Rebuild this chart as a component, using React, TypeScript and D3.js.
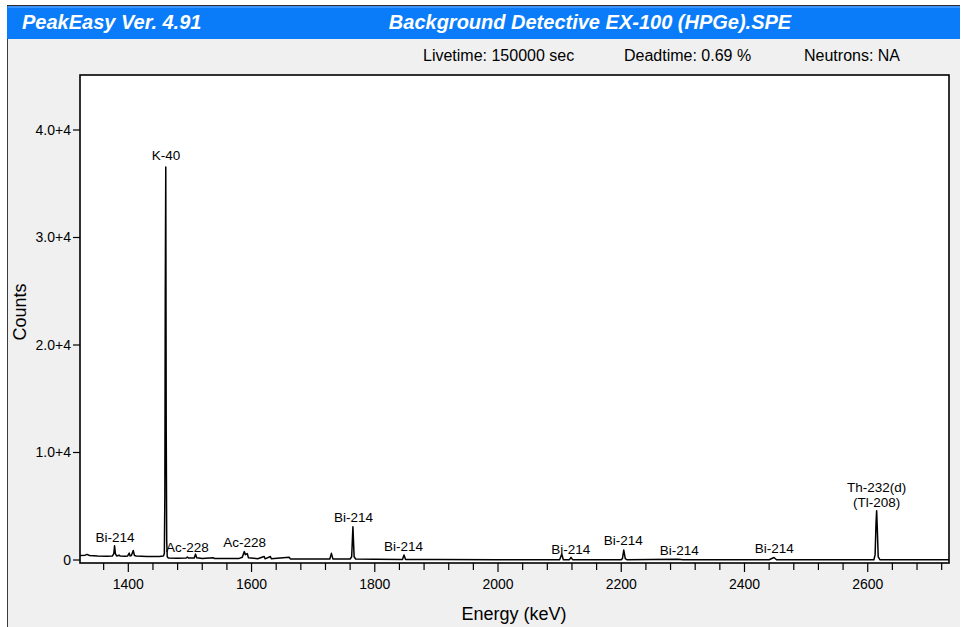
import React from "react";
import * as d3 from "d3";

// Spectrum points: energy (keV) and counts
const spectrumEnergy = [
  1322, 1330, 1333, 1337, 1350, 1365, 1374, 1376.5, 1377.7, 1379, 1381, 1385, 1387, 1395, 1399,
  1401.5, 1403, 1405, 1408, 1410, 1413, 1430, 1450, 1457, 1458.5, 1459.3, 1460.0, 1460.8, 1461.5,
  1462.3, 1463.2, 1465, 1480, 1494, 1495.9, 1498, 1507, 1509.2, 1511, 1520, 1538, 1540, 1560, 1580,
  1585, 1588.2, 1590, 1593, 1595, 1610, 1620.5, 1622, 1630.6, 1632, 1661, 1663, 1700, 1727, 1729.6,
  1732, 1760, 1762.5, 1764.5, 1766.5, 1769, 1800, 1845, 1847.4, 1850, 1900, 2000, 2100, 2103.5,
  2106, 2116, 2118.5, 2121, 2200, 2202, 2204.1, 2206.5, 2209, 2293, 2300, 2440, 2447.9, 2452, 2610,
  2612, 2613.5, 2614.5, 2615.5, 2617, 2620, 2732,
];
const spectrumCounts = [
  430, 450, 520, 420, 380, 360, 370, 600, 1330, 600, 380, 450, 370, 360, 380,
  640, 380, 420, 880, 420, 370, 330, 330, 370, 600, 5900, 24900, 36560, 12400,
  1800, 300, 180, 170, 190, 280, 180, 180, 550, 200, 150, 200, 140, 130, 150,
  250, 780, 500, 600, 200, 120, 330, 110, 330, 110, 260, 100, 90, 100, 620,
  100, 90, 300, 3100, 300, 90, 60, 50, 460, 50, 40, 30, 30, 550,
  30, 30, 250, 30, 30, 150, 930, 120, 30, 60, 20, 20, 230, 20, 20,
  500, 3500, 4590, 3000, 300, 20, 20,
];

// Peak labels: text, energy of label center, counts at label baseline
const peakLabelText = [
  "Bi-214", "K-40", "Ac-228", "Ac-228", "Bi-214", "Bi-214", "Bi-214", "Bi-214", "Bi-214", "Bi-214",
  "Th-232(d)", "(Tl-208)",
];
const peakLabelEnergy = [1378.5, 1461, 1496, 1588.6, 1765.5, 1846.5, 2118, 2203.3, 2294.3, 2448.4, 2614.5, 2614.5];
const peakLabelCounts = [1720, 37250, 700, 1210, 3580, 880, 600, 1350, 510, 670, 6340, 4950];

const yTickValues = [0, 10000, 20000, 30000, 40000];
const yTickLabels = ["0", "1.0+4", "2.0+4", "3.0+4", "4.0+4"];
const xMajorTicks = [1400, 1600, 1800, 2000, 2200, 2400, 2600];
const xMinorTicks = [
  1360, 1400, 1440, 1480, 1520, 1560, 1600, 1640, 1680, 1720, 1760, 1800, 1840, 1880, 1920, 1960,
  2000, 2040, 2080, 2120, 2160, 2200, 2240, 2280, 2320, 2360, 2400, 2440, 2480, 2520, 2560, 2600,
  2640, 2680, 2720,
];

const titleLeft = "PeakEasy Ver. 4.91";
const titleCenter = "Background Detective EX-100 (HPGe).SPE";
const infoTexts = ["Livetime: 150000 sec", "Deadtime: 0.69 %", "Neutrons: NA"];

const W = 965;
const H = 627;
const plot = { left: 80, right: 949, top: 75, bottom: 563 };
const FONT = "Arial, 'Liberation Sans', sans-serif";

export default function App() {
  const x = d3.scaleLinear().domain([1321.6, 2731.9]).range([plot.left, plot.right]);
  const y = d3.scaleLinear().domain([-279, 45116]).range([plot.bottom, plot.top]);
  const pts: [number, number][] = spectrumEnergy.map((e, i) => [e, spectrumCounts[i]]);
  const line = d3
    .line<[number, number]>()
    .x((d) => x(d[0]))
    .y((d) => y(d[1]));

  return (
    <div>
      <style>{"body{margin:0;background:#fff}"}</style>
      <svg width={W} height={H} style={{ display: "block" }} fontFamily={FONT}>
        <defs>
          <clipPath id="plotclip">
            <rect x={plot.left} y={plot.top} width={plot.right - plot.left} height={plot.bottom - plot.top} />
          </clipPath>
        </defs>
        <rect x={0} y={0} width={W} height={H} fill="#ffffff" />
        {/* window background */}
        <rect x={7} y={5} width={953} height={H - 5} fill="#f0f0f0" />
        <line x1={7.5} y1={5} x2={7.5} y2={H} stroke="#3a3a3a" strokeWidth={1} />
        {/* header */}
        <rect x={7} y={5} width={953} height={34} fill="#0a7cf9" />
        <line x1={7} y1={5.5} x2={960} y2={5.5} stroke="#2a2a2a" strokeWidth={1} />
        <line x1={8} y1={7} x2={960} y2={7} stroke="#3d95fb" strokeWidth={2} />
        <text x={22} y={29} fill="#ffffff" fontSize={20} fontWeight="bold" fontStyle="italic">
          {titleLeft}
        </text>
        <text x={590} y={29} fill="#ffffff" fontSize={20} fontWeight="bold" fontStyle="italic" textAnchor="middle">
          {titleCenter}
        </text>
        {/* info line */}
        {infoTexts.map((t, i) => (
          <text key={i} x={[423, 624, 804][i]} y={61} fontSize={16} fill="#000">
            {t}
          </text>
        ))}
        {/* plot area */}
        <rect x={plot.left} y={plot.top} width={plot.right - plot.left} height={plot.bottom - plot.top} fill="#ffffff" />
        <path d={line(pts) || ""} fill="none" stroke="#000" strokeWidth={1.5} clipPath="url(#plotclip)" strokeLinejoin="round" />
        {peakLabelText.map((t, i) => (
          <text
            key={i}
            x={x(peakLabelEnergy[i])}
            y={y(peakLabelCounts[i])}
            fontSize={13.5}
            textAnchor="middle"
            fill="#000"
          >
            {t}
          </text>
        ))}
        <rect
          x={plot.left}
          y={plot.top}
          width={plot.right - plot.left}
          height={plot.bottom - plot.top}
          fill="none"
          stroke="#000"
          strokeWidth={1.6}
        />
        {/* y axis */}
        {yTickValues.map((v, i) => (
          <g key={i}>
            <line x1={plot.left - 7} x2={plot.left} y1={y(v)} y2={y(v)} stroke="#000" strokeWidth={1.2} />
            <text x={plot.left - 9} y={y(v) + 5} fontSize={14} textAnchor="end" fill="#000">
              {yTickLabels[i]}
            </text>
          </g>
        ))}
        {/* x axis */}
        {xMinorTicks.map((v, i) => (
          <line
            key={i}
            x1={x(v)}
            x2={x(v)}
            y1={plot.bottom}
            y2={plot.bottom + (xMajorTicks.includes(v) ? 9 : 7)}
            stroke="#000"
            strokeWidth={1.2}
          />
        ))}
        {xMajorTicks.map((v, i) => (
          <text key={i} x={x(v)} y={589} fontSize={14} textAnchor="middle" fill="#000">
            {v}
          </text>
        ))}
        <text x={514} y={620} fontSize={18} textAnchor="middle" fill="#000">
          Energy (keV)
        </text>
        <text transform="translate(26,312) rotate(-90)" fontSize={18} textAnchor="middle" fill="#000">
          Counts
        </text>
      </svg>
    </div>
  );
}
